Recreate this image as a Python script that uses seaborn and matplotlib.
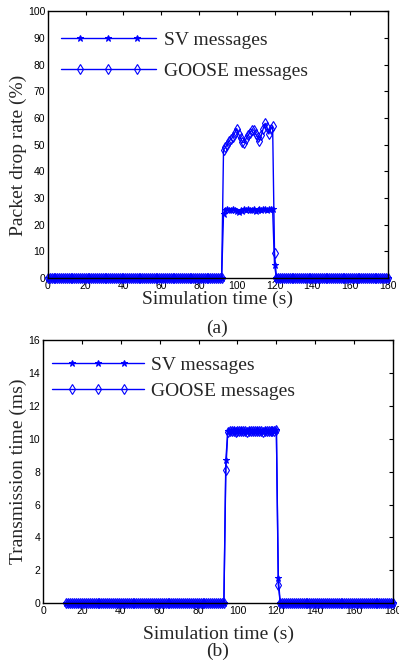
import numpy as np
import pandas as pd
import matplotlib
matplotlib.use('Agg')
import matplotlib.pyplot as plt
from matplotlib.lines import Line2D
from matplotlib.legend_handler import HandlerLine2D
import seaborn as sns

sns.set_style('white')
plt.rcParams['font.family'] = ['Liberation Sans', 'DejaVu Sans']

BLUE = '#0000ff'
SERIF = 'Liberation Serif'

# ---- (a) packet drop rate, 1 s samples from 0 to 180 s ----
t_a = list(range(0, 181))
sv_peak_a = [24.0, 25.5, 25.8, 25.6, 25.4, 25.9, 25.5, 25.2, 24.6, 25.5,
             25.3, 25.7, 25.4, 25.8, 25.6, 25.5, 25.9, 25.3, 25.6, 25.8,
             25.5, 25.7, 25.9, 25.6, 25.8, 25.7, 25.9]          # 93..119 s
goose_peak_a = [48.0, 49.0, 50.0, 51.5, 52.0, 53.0, 54.5, 56.0, 54.0, 52.5,
                51.0, 50.8, 52.3, 53.5, 54.5, 55.5, 55.5, 54.0, 53.0, 51.5,
                53.5, 56.0, 58.0, 56.5, 54.0, 56.0, 57.0]         # 93..119 s
sv_drop_a = 5.0       # 120 s
goose_drop_a = 9.5    # 120 s

# ---- (b) transmission time, 1 s samples from 12 to 180 s ----
t_b = list(range(12, 181))
sv_rise_b = 8.7       # 94 s
goose_rise_b = 8.1    # 94 s
sv_plateau_b = [10.45, 10.5, 10.48, 10.52, 10.46, 10.5, 10.47, 10.53, 10.49, 10.5,
                10.46, 10.52, 10.48, 10.5, 10.47, 10.51, 10.49, 10.5, 10.46, 10.52,
                10.48, 10.5, 10.49, 10.53, 10.5, 10.55]          # 95..120 s
goose_plateau_b = [10.42, 10.47, 10.45, 10.5, 10.44, 10.48, 10.45, 10.5, 10.46, 10.47,
                   10.44, 10.49, 10.46, 10.48, 10.45, 10.49, 10.47, 10.48, 10.44, 10.5,
                   10.46, 10.48, 10.47, 10.5, 10.48, 10.52]      # 95..120 s
sv_fall_b = 1.5       # 121 s
goose_fall_b = 1.1    # 121 s


def series_a(peak, drop):
    return [0.0] * 93 + peak + [drop] + [0.0] * 60


def series_b(rise, plateau, fall):
    return [0.0] * (94 - 12) + [rise] + plateau + [fall] + [0.0] * 59


class PaddedMarkers(HandlerLine2D):
    # full-length legend line, three markers inset from both ends
    def create_artists(self, legend, orig_handle, xdescent, ydescent,
                       width, height, fontsize, trans):
        pad = 1.0 * fontsize
        x0 = -xdescent
        xs = np.array([x0, x0 + pad, x0 + width / 2, x0 + width - pad, x0 + width])
        ys = np.full_like(xs, (height - ydescent) / 2)
        line = Line2D(xs, ys)
        self.update_prop(line, orig_handle, legend)
        line.set_markevery([1, 2, 3])
        line.set_transform(trans)
        return [line]


df_a = pd.DataFrame({'t': t_a,
                     'SV': series_a(sv_peak_a, sv_drop_a),
                     'GOOSE': series_a(goose_peak_a, goose_drop_a)})
df_b = pd.DataFrame({'t': t_b,
                     'SV': series_b(sv_rise_b, sv_plateau_b, sv_fall_b),
                     'GOOSE': series_b(goose_rise_b, goose_plateau_b, goose_fall_b)})

fig = plt.figure(figsize=(3.99, 6.62), dpi=100)
ax1 = fig.add_axes([0.120, 0.580, 0.852, 0.403])
ax2 = fig.add_axes([0.108, 0.089, 0.877, 0.397])


def draw(ax, df, leg_anchor, spacing, hlen, xpad):
    sns.lineplot(data=df, x='t', y='SV', ax=ax, color=BLUE, lw=1.0,
                 marker='*', markersize=5, mec=BLUE, mfc=BLUE,
                 label='SV messages', clip_on=False)
    sns.lineplot(data=df, x='t', y='GOOSE', ax=ax, color=BLUE, lw=1.0,
                 marker='d', markersize=5, mec=BLUE, mfc='none', mew=0.8,
                 label='GOOSE messages', clip_on=False)
    ax.set_xlim(0, 180)
    ax.set_xticks(range(0, 181, 20))
    ax.tick_params(direction='in', top=True, right=True, length=3, width=0.8,
                   labelsize=7.5, pad=2, colors='black')
    for s in ax.spines.values():
        s.set_color('black')
        s.set_linewidth(1.0)
    ax.set_xlabel('Simulation time (s)', family=SERIF, fontsize=14, labelpad=xpad)
    ax.legend(loc='upper left', bbox_to_anchor=leg_anchor, frameon=False,
              handlelength=hlen, borderaxespad=0, borderpad=0,
              prop={'family': SERIF, 'size': 14}, labelspacing=spacing,
              handletextpad=0.4, handler_map={Line2D: PaddedMarkers()})


draw(ax1, df_a, (0.038, 0.925), 0.70, 4.9, 0)
ax1.set_ylim(0, 100)
ax1.set_yticks(range(0, 101, 10))
ax1.set_ylabel('Packet drop rate (%)', family=SERIF, fontsize=14)
ax1.yaxis.set_label_coords(-0.062, 0.46)

draw(ax2, df_b, (0.026, 0.939), 0.45, 4.7, 7)
ax2.set_ylim(0, 16)
ax2.set_yticks(range(0, 17, 2))
ax2.set_ylabel('Transmission time (ms)', family=SERIF, fontsize=14)
ax2.yaxis.set_label_coords(-0.046, 0.5)

fig.text(0.545, 1 - 328 / 662, '(a)', family=SERIF, fontsize=14, ha='center', va='center')
fig.text(0.545, 1 - 651 / 662, '(b)', family=SERIF, fontsize=14, ha='center', va='center')

fig.savefig('out.png', dpi=100)
